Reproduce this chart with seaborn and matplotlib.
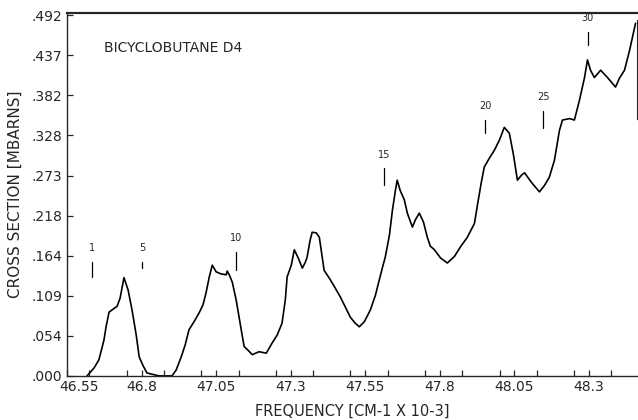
import numpy as np
import pandas as pd
import matplotlib
matplotlib.use("Agg")
import matplotlib.pyplot as plt
import matplotlib.transforms as mtransforms
import seaborn as sns
from matplotlib.ticker import MultipleLocator

# spectrum
freq = [46.617, 46.641, 46.657, 46.674, 46.681, 46.691, 46.718, 46.728, 46.741, 46.755,
        46.768, 46.782, 46.792, 46.805, 46.818, 46.859, 46.902, 46.916, 46.933, 46.946,
        46.959, 46.976, 46.993, 47.006, 47.016, 47.027, 47.037, 47.050, 47.067, 47.084,
        47.087, 47.094, 47.104, 47.117, 47.127, 47.137, 47.144, 47.157, 47.171, 47.194,
        47.218, 47.238, 47.255, 47.271, 47.282, 47.288, 47.302, 47.312, 47.325, 47.339,
        47.349, 47.355, 47.365, 47.372, 47.386, 47.396, 47.412, 47.433, 47.449, 47.466,
        47.483, 47.500, 47.516, 47.530, 47.547, 47.567, 47.584, 47.597, 47.607, 47.617,
        47.631, 47.641, 47.651, 47.657, 47.667, 47.681, 47.691, 47.708, 47.718, 47.731,
        47.745, 47.758, 47.768, 47.782, 47.802, 47.825, 47.849, 47.869, 47.892, 47.916,
        47.926, 47.939, 47.949, 47.966, 47.983, 48.000, 48.016, 48.033, 48.047, 48.060,
        48.074, 48.084, 48.107, 48.134, 48.151, 48.167, 48.184, 48.201, 48.211, 48.235,
        48.251, 48.268, 48.285, 48.295, 48.305, 48.318, 48.339, 48.362, 48.389, 48.402,
        48.419, 48.436, 48.456]
sigma = [0.000, 0.011, 0.022, 0.049, 0.067, 0.087, 0.095, 0.106, 0.134, 0.117,
         0.090, 0.056, 0.026, 0.014, 0.004, 0.000, 0.000, 0.008, 0.026, 0.042,
         0.063, 0.074, 0.086, 0.097, 0.113, 0.135, 0.151, 0.142, 0.139, 0.138,
         0.143, 0.138, 0.128, 0.104, 0.080, 0.056, 0.040, 0.035, 0.029, 0.033,
         0.031, 0.045, 0.056, 0.072, 0.104, 0.135, 0.151, 0.172, 0.161, 0.147,
         0.155, 0.162, 0.185, 0.196, 0.195, 0.189, 0.144, 0.131, 0.120, 0.108,
         0.094, 0.080, 0.072, 0.067, 0.074, 0.090, 0.110, 0.131, 0.147, 0.162,
         0.192, 0.226, 0.253, 0.267, 0.253, 0.240, 0.222, 0.203, 0.213, 0.222,
         0.210, 0.189, 0.177, 0.172, 0.161, 0.154, 0.163, 0.176, 0.189, 0.208,
         0.233, 0.264, 0.285, 0.297, 0.308, 0.322, 0.339, 0.331, 0.301, 0.267,
         0.274, 0.277, 0.264, 0.251, 0.260, 0.271, 0.294, 0.335, 0.349, 0.351,
         0.349, 0.376, 0.407, 0.431, 0.417, 0.407, 0.417, 0.407, 0.394, 0.406,
         0.417, 0.444, 0.481]

# line markers
mark_num = ["1", "5", "10", "15", "20", "25", "30"]
mark_x = [46.634, 46.802, 47.117, 47.614, 47.953, 48.147, 48.295]
mark_lo = [0.135, 0.147, 0.144, 0.260, 0.331, 0.338, 0.451]
mark_hi = [0.155, 0.155, 0.169, 0.283, 0.349, 0.362, 0.469]

xtick_vals = [46.55, 46.8, 47.05, 47.3, 47.55, 47.8, 48.05, 48.3]
xtick_labels = ["46.55", "46.8", "47.05", "47.3", "47.55", "47.8", "48.05", "48.3"]
ytick_vals = [i * 0.492 / 9 for i in range(10)]
ytick_labels = [".000", ".054", ".109", ".164", ".218", ".273", ".328", ".382", ".437", ".492"]

df = pd.DataFrame({"freq": freq, "sigma": sigma})

sns.set_style("ticks")
plt.rcParams["font.family"] = ["DejaVu Sans"]

fig = plt.figure(figsize=(6.38, 4.2), dpi=100)
ax = fig.add_axes([0.105, 0.105, 0.893, 0.864])

sns.lineplot(data=df, x="freq", y="sigma", color="black", linewidth=1.2, ax=ax)

for n, x, lo, hi in zip(mark_num, mark_x, mark_lo, mark_hi):
    ax.plot([x, x], [lo, hi], color="black", linewidth=0.9)
    ax.text(x, hi + 0.012, n, ha="center", va="bottom", fontsize=7)

ax.text(46.674, 0.447, "BICYCLOBUTANE D4", fontsize=10, va="center", ha="left")

ax.set_xlim(46.55, 48.46)
ax.set_ylim(0, 0.495)
ax.set_xticks(xtick_vals)
ax.set_xticklabels(xtick_labels, fontsize=10)
ax.xaxis.set_minor_locator(MultipleLocator(0.125))
ax.set_yticks(ytick_vals)
ax.set_yticklabels(ytick_labels, fontsize=10)
ax.tick_params(axis="both", which="both", direction="in", length=4, width=0.9)
ax.tick_params(axis="x", pad=3)

# first x label sits a little to the right, as on the original plot
first = ax.get_xticklabels()[0]
first.set_transform(first.get_transform() +
                    mtransforms.ScaledTranslation(12 / 100, 0, fig.dpi_scale_trans))

ax.set_xlabel("FREQUENCY [CM-1 X 10-3]", fontsize=10.5, labelpad=7)
ax.set_ylabel("CROSS SECTION [MBARNS]", fontsize=11, labelpad=6)

for s in ["left", "bottom"]:
    ax.spines[s].set_linewidth(1.0)
ax.spines["top"].set_linewidth(1.6)
ax.spines["right"].set_bounds(0.35, 0.485)

fig.savefig("out.png", dpi=100)
